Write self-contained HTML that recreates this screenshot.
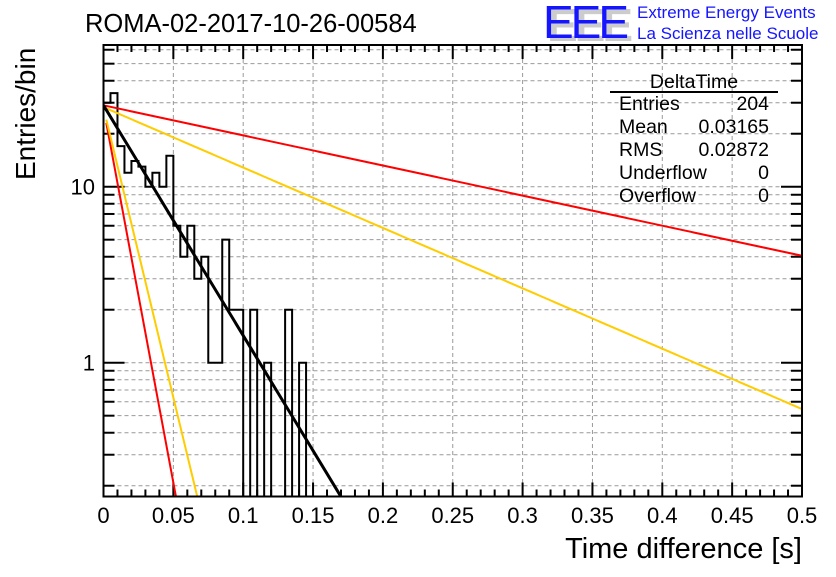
<!DOCTYPE html>
<html><head><meta charset="utf-8"><style>
body{margin:0;background:#fff}
svg text{font-family:"Liberation Sans",sans-serif}
</style></head><body>
<svg width="836" height="572" viewBox="0 0 836 572" xmlns="http://www.w3.org/2000/svg">
<defs><clipPath id="pc"><rect x="103.5" y="45" width="698.5" height="451.5"/></clipPath></defs>
<rect width="836" height="572" fill="#fff"/>
<text x="85" y="32" font-size="25.5">ROMA-02-2017-10-26-00584</text>
<g>
<text x="547" y="41" font-size="46" fill="#ccc" font-weight="bold" textLength="86">EEE</text>
<text x="543" y="38" font-size="46" fill="#1515ff" textLength="86">EEE</text>
<text x="637" y="18" font-size="17" fill="#1515ff">Extreme Energy Events</text>
<text x="637" y="39" font-size="17" fill="#1515ff">La Scienza nelle Scuole</text>
</g>
<g id="grid"></g>
<g id="ticks"></g>
<g id="marks" clip-path="url(#pc)"></g>
<rect x="103.5" y="45" width="698.5" height="451.5" fill="none" stroke="#000" stroke-width="2"/>
<g id="labels"></g>
<text x="0" y="0" font-size="28" transform="translate(35,180) rotate(-90)">Entries/bin</text>
<text x="802" y="558" font-size="29" text-anchor="end">Time difference [s]</text>
<g font-size="19.5">
<text x="694" y="88" text-anchor="middle">DeltaTime</text>
<line x1="610" y1="92" x2="778" y2="92" stroke="#000" stroke-width="2"/>
<text x="619" y="110">Entries</text><text x="769" y="110" text-anchor="end">204</text>
<text x="619" y="133">Mean</text><text x="769" y="133" text-anchor="end">0.03165</text>
<text x="619" y="156">RMS</text><text x="769" y="156" text-anchor="end">0.02872</text>
<text x="619" y="179">Underflow</text><text x="769" y="179" text-anchor="end">0</text>
<text x="619" y="202">Overflow</text><text x="769" y="202" text-anchor="end">0</text>
</g>
</svg>
<script>
const binWidth = 0.005;
const counts = [30,34,17,12,14,13,10,12,10,15,6,4,6,3,4,1,1,5,2,2,0,2,0,1,0,0,2,0,1];
const fitNames = ['fit-black','fit-red-slow','fit-yellow-slow','fit-red-fast','fit-yellow-fast'];
const fitAmp = [29,29,28.3,28,28];
const fitTau = [0.0332,0.254,0.1266,0.0102,0.0132];
const fitColor = ['#000','#f00','#fc0','#f00','#fc0'];
const xTicks = [0,0.05,0.1,0.15,0.2,0.25,0.3,0.35,0.4,0.45,0.5];
const xTickLabels = ['0','0.05','0.1','0.15','0.2','0.25','0.3','0.35','0.4','0.45','0.5'];
const yTicks = [1,10];
const yTickLabels = ['1','10'];

const NS='http://www.w3.org/2000/svg';
const X0=103.5,X1=802,YB=496.5,YT=45;
const xMin=0,xMax=0.5;
const y1=362.7, dec=176;
const sx=v=>X0+(v-xMin)/(xMax-xMin)*(X1-X0);
const sy=v=>v<=0?YB+5:y1-Math.log10(v)*dec;
function mk(tag,attrs,parent){const e=document.createElementNS(NS,tag);for(const k in attrs)e.setAttribute(k,attrs[k]);parent.appendChild(e);return e;}
const grid=document.getElementById('grid'),ticks=document.getElementById('ticks'),marks=document.getElementById('marks'),labels=document.getElementById('labels');
xTicks.forEach((t,i)=>{
  const x=sx(t);
  if(i>0&&i<xTicks.length-1){const g=mk('line',{x1:x,x2:x,y1:YT,y2:YB,stroke:'#999','stroke-dasharray':'4,3','stroke-width':1},grid);
  
  }
  const l=mk('text',{x:x,y:523,'font-size':22,'text-anchor':'middle'},labels);
  l.textContent=xTickLabels[i];
  
  
});
for(let k=0;k<=50;k++){const x=sx(k*0.01);const len=k%5==0?14:7;
  mk('line',{x1:x,x2:x,y1:YB,y2:YB-len,stroke:'#000','stroke-width':2},ticks);
  mk('line',{x1:x,x2:x,y1:YT,y2:YT+len,stroke:'#000','stroke-width':2},ticks);}
for(let d=-1;d<=1;d++){for(let m=1;m<=9;m++){const v=m*Math.pow(10,d);const y=sy(v);
  if(y<YT+1||y>YB-1)continue;
  const g=mk('line',{x1:X0,x2:X1,y1:y,y2:y,stroke:'#999','stroke-dasharray':'4,3','stroke-width':1},grid);
  
  
  const len=m==1?21:11;
  mk('line',{x1:X0,x2:X0+len,y1:y,y2:y,stroke:'#000','stroke-width':2},ticks);
  mk('line',{x1:X1,x2:X1-len,y1:y,y2:y,stroke:'#000','stroke-width':2},ticks);}}
yTicks.forEach((t,i)=>{const l=mk('text',{x:95,y:sy(t)+8,'font-size':22,'text-anchor':'end'},labels);
  l.textContent=yTickLabels[i];
  
  });
let d='M'+sx(0)+','+(YB+5);
counts.forEach((c,i)=>{const xa=sx(i*binWidth),xb=sx((i+1)*binWidth),y=sy(c);d+=' L'+xa+','+y+' L'+xb+','+y;});
d+=' L'+sx(counts.length*binWidth)+','+(YB+5);
const h=mk('path',{d:d,fill:'none',stroke:'#000','stroke-width':2},marks);


const order=[1,2,3,4,0];
order.forEach(k=>{let p='';for(let i=0;i<=400;i++){const x=0.002*(k>=3?1:0)+i*(0.5/400);
  const v=fitAmp[k]*Math.exp(-x/fitTau[k]);let y=sy(v);if(y>YB+20){p+=(p?' L':'M')+sx(x)+','+y;break;}
  p+=(p?' L':'M')+sx(x)+','+y;}
  const e=mk('path',{d:p,fill:'none',stroke:fitColor[k],'stroke-width':k==0?3:2},marks);
  
  });
</script>
</body></html>
